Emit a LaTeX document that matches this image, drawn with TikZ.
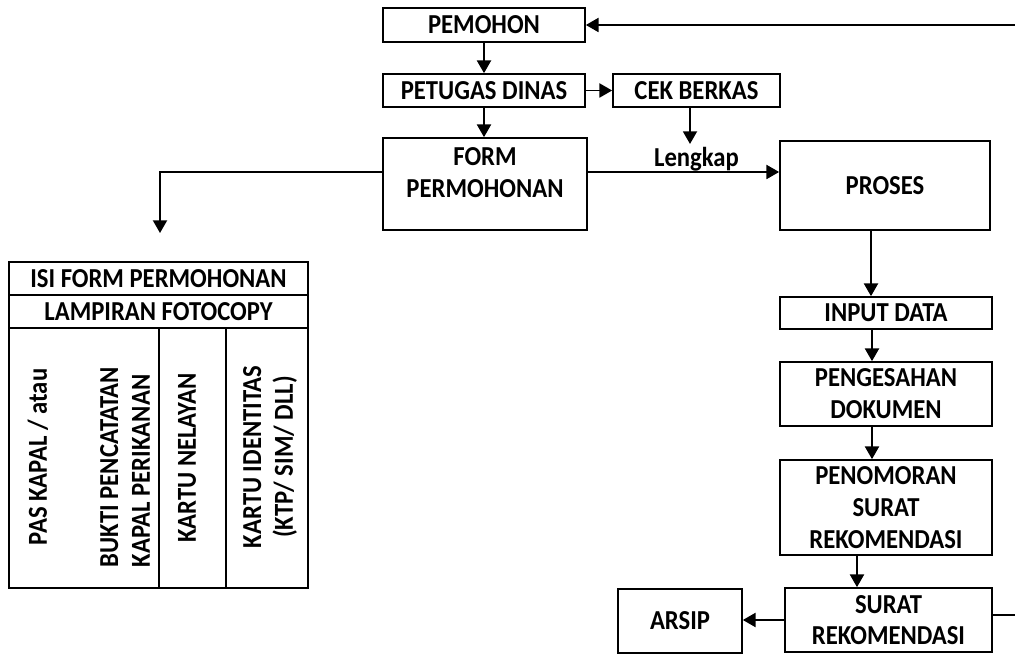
\documentclass[tikz,border=0pt]{standalone}
\usepackage{fontspec}
\setmainfont{Carlito}[FakeStretch=0.9]
\usepackage{tikz}
\usetikzlibrary{arrows.meta,calc,positioning}
\tikzset{
  box/.style={draw,line width=1.2pt,align=center,inner sep=2pt},
  grid/.style={line width=1.2pt},
  every node/.style={font=\fontsize{19.5}{22.6}\selectfont\bfseries}
}
\tikzstyle{arrow} = [line width=1.2pt,-{Triangle[length=9pt,width=10pt]}]

\begin{document}
\begin{tikzpicture}[x=0.025cm,y=-0.025cm]
  \useasboundingbox (0,0) rectangle (1015,655);
  \clip (0,0) rectangle (1015,655);
  % top chain
  \node[box,minimum width=5.05cm,minimum height=0.85cm] (pemohon) at (484,25) {PEMOHON};
  \node[box,minimum width=5.05cm,minimum height=0.825cm] (petugas) at (484,90.5) {PETUGAS DINAS};
  \node[box,minimum width=4.175cm,minimum height=0.825cm] (cek) at (696.5,90.5) {CEK BERKAS};
  \node[box,minimum width=5.1cm,minimum height=2.3cm] (form) at (485,184) {};
  \node[anchor=north,align=center,inner sep=0pt] (formtxt) at (485,147) {FORM\\PERMOHONAN};
  \node[inner sep=2pt] (lengkap) at (696.5,159) {Lengkap};
  \node[box,minimum width=5.25cm,minimum height=2.225cm] (proses) at (885,185.5) {PROSES};
  % right column
  \node[box,minimum width=5.3cm,minimum height=0.8cm] (input) at (886,313) {INPUT DATA};
  \node[box,minimum width=5.3cm,minimum height=1.6cm] (sah) at (886,394) {PENGESAHAN\\DOKUMEN};
  \node[box,minimum width=5.3cm,minimum height=2.375cm] (nomor) at (886,507.5) {PENOMORAN\\SURAT\\REKOMENDASI};
  \node[box,minimum width=5.175cm,minimum height=1.6cm] (surat) at (888.5,620) {SURAT\\REKOMENDASI};
  \node[box,minimum width=3.1cm,minimum height=1.6cm] (arsip) at (680,621) {ARSIP};
  \coordinate (drop) at (160,233);

  \draw[arrow] (pemohon) -- (petugas);
  \draw[arrow] (petugas) -- (cek);
  \draw[arrow] (petugas.south) -- (petugas.south |- form.north);
  \draw[arrow] (cek.south -| 690,0) -- (lengkap.north -| 690,0);
  \draw[arrow] ([yshift=0.3cm]form.east) -- ([yshift=0.3cm]form.east -| proses.west);
  \draw[arrow] ([yshift=0.3cm]form.west) -| (drop);
  \draw[arrow] ([xshift=-0.35cm]proses.south) -- ([xshift=-0.35cm]proses.south |- input.north);
  \draw[arrow] ([xshift=-0.35cm]input.south) -- ([xshift=-0.35cm]input.south |- sah.north);
  \draw[arrow] ([xshift=-0.35cm]sah.south) -- ([xshift=-0.35cm]sah.south |- nomor.north);
  \draw[arrow] ([xshift=-0.725cm]nomor.south) -- ([xshift=-0.725cm]nomor.south |- surat.north);
  \draw[arrow] (surat.west) -- (surat.west -| arsip.east);
  \draw[arrow] ([yshift=0.125cm]surat.east) -- ++(1.5cm,0) |- (pemohon.east);

  % lampiran table
  \draw[grid] (9,262) rectangle (308,588);
  \draw[grid] (9,295) -- (308,295) (9,328) -- (308,328);
  \draw[grid] (159,328) -- (159,588) (226,328) -- (226,588);
  \node (isi) at (158.5,279) {ISI FORM PERMOHONAN};
  \node (lampiran) at (158.5,312) {LAMPIRAN FOTOCOPY};
  \node[rotate=90] (pas) at (38,457) {PAS KAPAL / atau};
  \node[rotate=90,align=left] (bukti) at (125,467) {BUKTI PENCATATAN\\KAPAL PERIKANAN};
  \node[rotate=90] (nelayan) at (187,458) {KARTU NELAYAN};
  \node[rotate=90,align=center] (identitas) at (270,457) {KARTU IDENTITAS\\(KTP/ SIM/ DLL)};
\end{tikzpicture}
\end{document}
